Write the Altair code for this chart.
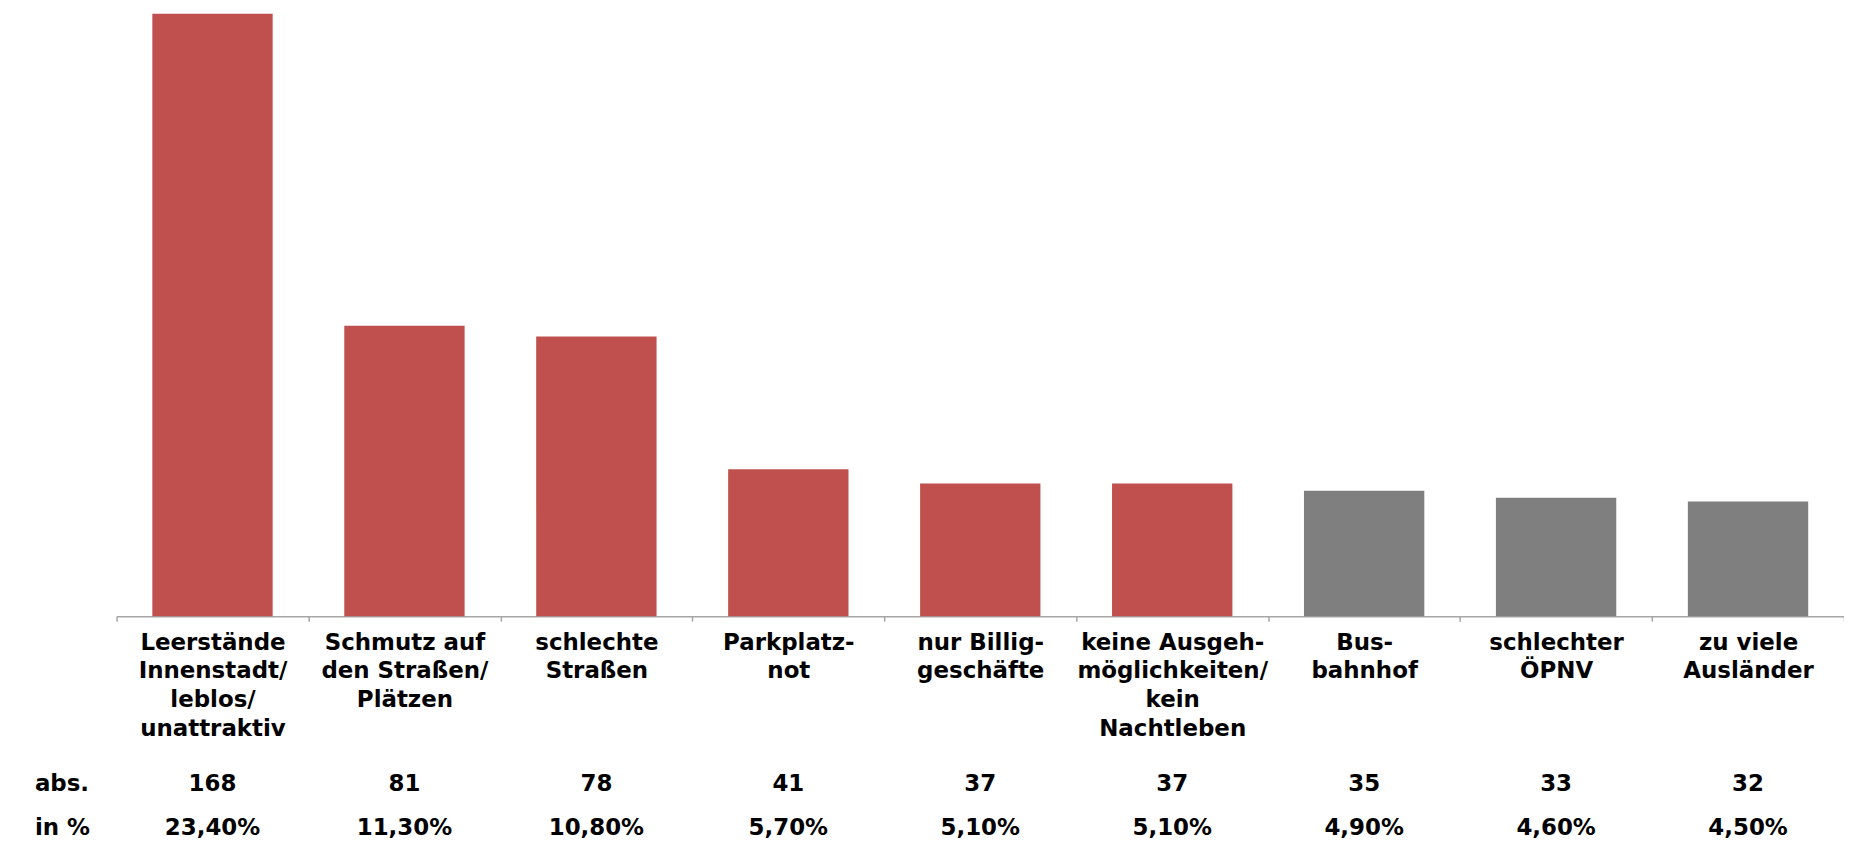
import altair as alt
import pandas as pd

categories = [
    "Leerstände|Innenstadt/|leblos/|unattraktiv",
    "Schmutz auf|den Straßen/|Plätzen",
    "schlechte|Straßen",
    "Parkplatz-|not",
    "nur Billig-|geschäfte",
    "keine Ausgeh-|möglichkeiten/|kein|Nachtleben",
    "Bus-|bahnhof",
    "schlechter|ÖPNV",
    "zu viele|Ausländer",
]
abs_values = [168, 81, 78, 41, 37, 37, 35, 33, 32]
pct_values = ["23,40%", "11,30%", "10,80%", "5,70%", "5,10%", "5,10%", "4,90%", "4,60%", "4,50%"]
groups = ["hl", "hl", "hl", "hl", "hl", "hl", "other", "other", "other"]
row_headers = ["abs.", "in %"]

df = pd.DataFrame({
    "cat": categories,
    "abs": abs_values,
    "pct": pct_values,
    "grp": groups,
})

FONT = "DejaVu Sans"
FS = 23
FW = "bold"

x_enc = alt.X(
    "cat:N",
    sort=None,
    title=None,
    scale=alt.Scale(paddingInner=0, paddingOuter=0),
    axis=alt.Axis(
        labelExpr="split(datum.label, '|')",
        labelFont=FONT,
        labelFontSize=FS,
        labelFontWeight=FW,
        labelColor="#000000",
        labelLineHeight=29,
        labelBaseline="alphabetic",
        labelPadding=28,
        labelAngle=0,
        labelLimit=0,
        labelOverlap=False,
        labelBound=False,
        labelFlush=False,
        tickBand="extent",
        tickSize=5,
        tickColor="#A6A6A6",
        tickWidth=1.5,
        domainColor="#A6A6A6",
        domainWidth=1.5,
        grid=False,
    ),
)

bars = alt.Chart(df).mark_bar(width=alt.RelativeBandSize(0.627)).encode(
    x=x_enc,
    y=alt.Y("abs:Q", axis=None, scale=alt.Scale(domain=[0, 168], nice=False)),
    color=alt.Color(
        "grp:N",
        legend=None,
        scale=alt.Scale(domain=["hl", "other"], range=["#C0504D", "#7F7F7F"]),
    ),
)

text_style = dict(font=FONT, fontSize=FS, fontWeight=FW, color="#000000", baseline="alphabetic")

abs_row = alt.Chart(df).mark_text(**text_style).encode(
    x=alt.X("cat:N", sort=None),
    y=alt.value(781),
    text="abs:N",
)

pct_row = alt.Chart(df).mark_text(**text_style).encode(
    x=alt.X("cat:N", sort=None),
    y=alt.value(825),
    text="pct:N",
)

hdr_abs = alt.Chart(pd.DataFrame({"h": [row_headers[0]]})).mark_text(
    align="left", **text_style
).encode(x=alt.value(-82), y=alt.value(781), text="h:N")

hdr_pct = alt.Chart(pd.DataFrame({"h": [row_headers[1]]})).mark_text(
    align="left", **text_style
).encode(x=alt.value(-82), y=alt.value(825), text="h:N")

chart = alt.layer(bars, abs_row, pct_row, hdr_abs, hdr_pct).properties(
    width=1735,
    height=605,
    background="#ffffff",
    autosize=alt.AutoSizeParams(type="none"),
    padding={"left": 109, "top": 4, "right": 0, "bottom": 225},
).configure_view(stroke=None)

chart.save("out.html", embed_options={"renderer": "svg", "actions": False})
